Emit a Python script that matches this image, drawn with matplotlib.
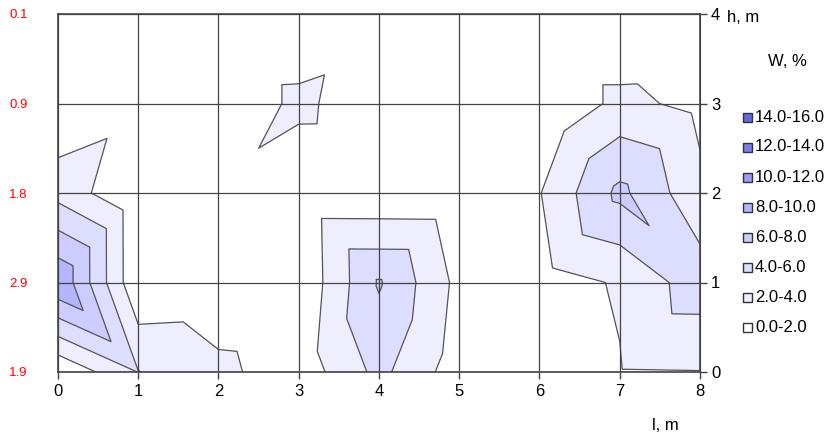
import matplotlib
matplotlib.use('Agg')
import matplotlib.pyplot as plt
import matplotlib.tri as mtri
from matplotlib.patches import Rectangle
import numpy as np

plt.rcParams['font.family'] = ['Liberation Sans', 'DejaVu Sans']

# distance along the section, m
l_m = [0, 1, 2, 3, 4, 5, 6, 7, 8]
# depth, m
h_m = [0, 1, 2, 3, 4]
# row names on the left side, bottom to top
row_names = ['1.9', '2.9', '1.8', '0.9', '0.1']

# moisture W, % -- one list per depth row
w_h0 = [0.17, 4.05, 2.54, 0.74, 4.58, 0.90, 0.50, 1.90, 1.95]
w_h1 = [9.80, 0.20, 0.39, 0.20, 6.20, 1.42, 1.13, 2.19, 5.13]
w_h2 = [3.30, 0.17, 1.50, 0.33, 0.30, 0.25, 1.90, 6.50, 2.50]
w_h3 = [0.00, 1.17, 0.12, 2.50, 0.50, 0.30, 0.00, 2.53, 1.46]
w_h4 = [0.00, 0.20, 0.12, 0.23, 0.94, 0.20, 0.00, 0.00, 0.12]

levels = [0, 2, 4, 6, 8, 10, 12, 14, 16]
band_colors = ['#FFFFFF', '#EEEEFF', '#DDDDFF', '#CCCCFF',
               '#B4B4FF', '#9999FF', '#7C7CE6', '#6666DD']

W = np.array([w_h0, w_h1, w_h2, w_h3, w_h4])
X, H = np.meshgrid(l_m, h_m)
nx = len(l_m)

# two triangles per grid cell, split along the diagonal with the larger sum
triangles = []
for j in range(len(h_m) - 1):
    for i in range(nx - 1):
        a = j * nx + i
        b = a + 1
        c = a + nx
        d = c + 1
        if W[j, i] + W[j + 1, i + 1] >= W[j, i + 1] + W[j + 1, i]:
            triangles += [[a, b, d], [a, d, c]]
        else:
            triangles += [[a, b, c], [b, d, c]]
tri = mtri.Triangulation(X.ravel().astype(float), H.ravel().astype(float), triangles)

fig = plt.figure(figsize=(8.4, 4.41), dpi=100)
ax = fig.add_axes([58 / 840, 1 - 372 / 441, 642 / 840, 358 / 441])

ax.tricontourf(tri, W.ravel(), levels=levels, colors=band_colors, zorder=1)
ax.tricontour(tri, W.ravel(), levels=levels[1:-1], colors='#555555',
              linewidths=0.9, zorder=2)

ax.set_xlim(0, 8)
ax.set_ylim(0, 4)
ax.set_xticks(l_m)
ax.set_xticklabels([str(v) for v in l_m], fontsize=12)
ax.tick_params(axis='x', direction='out', length=5, width=1, color='#444444', pad=4)

# series names on the left in red
ax.set_yticks(h_m)
ax.set_yticklabels(row_names, color='red', fontsize=9.5)
ax.tick_params(axis='y', length=0, pad=21)
for lab in ax.get_yticklabels():
    lab.set_horizontalalignment('left')
ax.yaxis.set_tick_params(pad=35)

sec = ax.secondary_yaxis('right')
sec.set_yticks(h_m)
sec.set_yticklabels([str(v) for v in h_m], fontsize=12)
sec.tick_params(direction='out', length=5, width=1, color='#444444', pad=3)
sec.spines['right'].set_color('#444444')

ax.grid(True, color='#444444', linewidth=0.9)
ax.set_axisbelow(False)
for s in ax.spines.values():
    s.set_color('#444444')
    s.set_linewidth(1.2)

fig.text(727 / 840, 1 - 18 / 441, 'h, m', fontsize=12, va='center', ha='left')
fig.text(665 / 840, 1 - 425 / 441, 'l, m', fontsize=12, va='center', ha='center')

# legend
fig.text(787 / 840, 1 - 62 / 441, 'W, %', fontsize=12, va='center', ha='center')
for k in range(len(band_colors)):
    n = len(band_colors) - 1 - k
    y = 1 - (117 + 30 * k) / 441
    fig.add_artist(Rectangle((743 / 840, y - 4.5 / 441), 9 / 840, 9 / 441,
                             transform=fig.transFigure, facecolor=band_colors[n],
                             edgecolor='#333333', linewidth=1))
    fig.text(755 / 840, y, '%.1f-%.1f' % (levels[n], levels[n + 1]),
             fontsize=12, va='center', ha='left')

fig.savefig('out.png', dpi=100)
